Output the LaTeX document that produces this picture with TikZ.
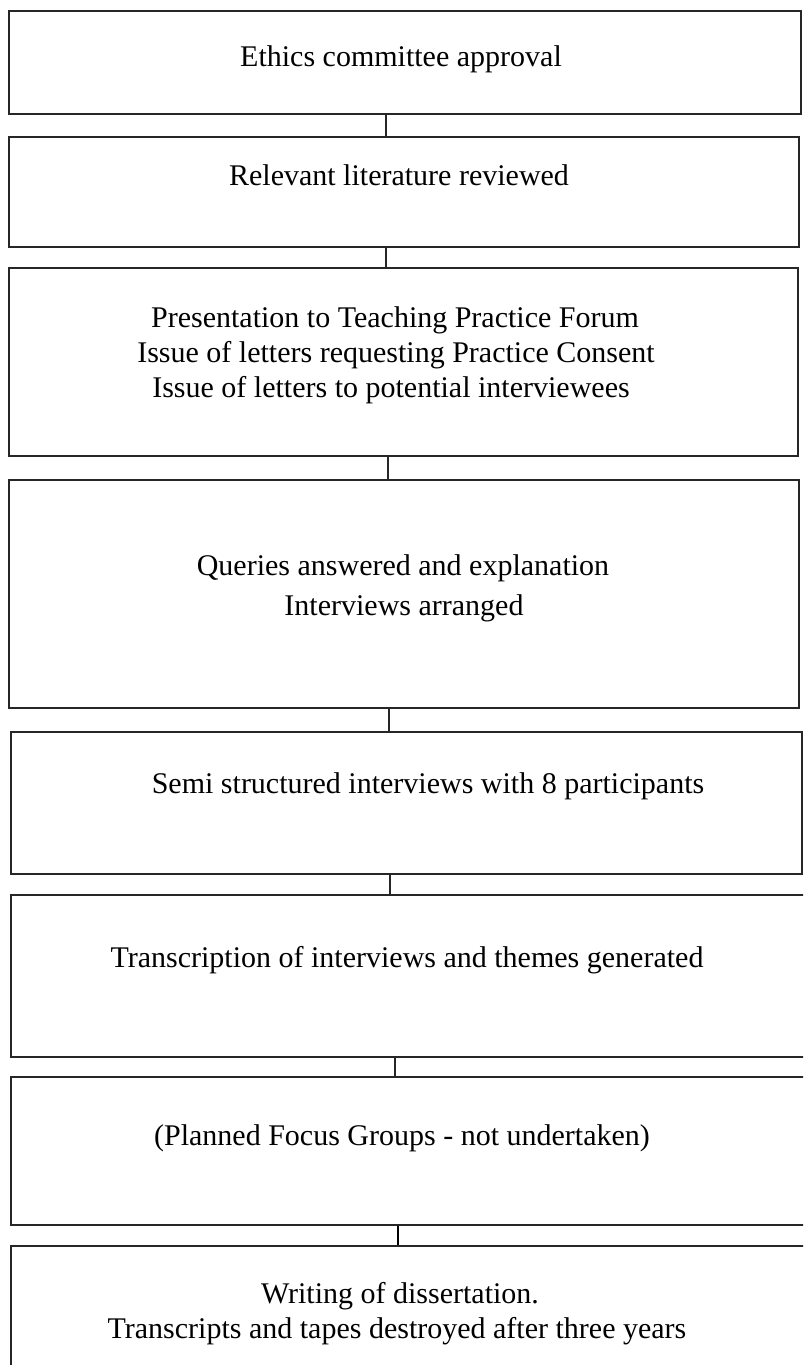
\documentclass[tikz,border=0pt]{standalone}
\usepackage{fontspec}
\setmainfont{Liberation Serif}
\begin{document}
\begin{tikzpicture}[x=1pt,y=-1pt,
  box/.style={draw=black!85, line width=1.5pt, rectangle, inner sep=0pt},
  lbl/.style={anchor=base, inner sep=0pt, font=\fontsize{30}{35}\selectfont},
  link/.style={draw=black!85, line width=1.3pt},
  boldlink/.style={draw=black, line width=2.4pt}]
\useasboundingbox (0,0) rectangle (803,1365);
\clip (0,0) rectangle (803,1365);
\fill[white] (0,0) rectangle (803,1365);
% boxes: centre = ((x1+x2)/2,(y1+y2)/2), size = (x2-x1, y2-y1)
\node[box, minimum width=792pt, minimum height=103pt] (b1) at (405,62.5) {};
\node[box, minimum width=790pt, minimum height=110pt] (b2) at (404,192) {};
\node[box, minimum width=789pt, minimum height=188pt] (b3) at (403.5,362) {};
\node[box, minimum width=790pt, minimum height=228pt] (b4) at (404,594) {};
\node[box, minimum width=791pt, minimum height=142pt] (b5) at (406.5,803) {};
\node[box, minimum width=801pt, minimum height=162pt] (b6) at (411.5,976) {};
\node[box, minimum width=801pt, minimum height=148pt] (b7) at (411.5,1151) {};
\node[box, minimum width=801pt, minimum height=134pt] (b8) at (411.5,1313) {};
% texts
\node[lbl] (t1) at (401,66) {Ethics committee approval};
\node[lbl] (t2) at (399,185) {Relevant literature reviewed};
\node[lbl] (t3a) at (395,327) {Presentation to Teaching Practice Forum};
\node[lbl] (t3b) at (396,362) {Issue of letters requesting Practice Consent};
\node[lbl] (t3c) at (391,397) {Issue of letters to potential interviewees};
\node[lbl] (t4a) at (403,575) {Queries answered and explanation};
\node[lbl] (t4b) at (404,615) {Interviews arranged};
\node[lbl] (t5) at (428,793) {Semi structured interviews with 8 participants};
\node[lbl] (t6) at (407,967) {Transcription of interviews and themes generated};
\node[lbl] (t7) at (402,1145) {(Planned Focus Groups - not undertaken)};
\node[lbl] (t8a) at (400,1303) {Writing of dissertation.};
\node[lbl] (t8b) at (397,1338) {Transcripts and tapes destroyed after three years};
% connector columns
\coordinate (k1) at (386,0);
\coordinate (k2) at (386,0);
\coordinate (k3) at (388,0);
\coordinate (k4) at (389,0);
\coordinate (k5) at (390,0);
\coordinate (k6) at (395,0);
\coordinate (k7) at (398,0);
\draw[link] (b1.south -| k1) -- (b2.north -| k1);
\draw[link] (b2.south -| k2) -- (b3.north -| k2);
\draw[link] (b3.south -| k3) -- (b4.north -| k3);
\draw[link] (b4.south -| k4) -- (b5.north -| k4);
\draw[link] (b5.south -| k5) -- (b6.north -| k5);
\draw[link] (b6.south -| k6) -- (b7.north -| k6);
\draw[boldlink] (b7.south -| k7) -- (b8.north -| k7);
\end{tikzpicture}
\end{document}
